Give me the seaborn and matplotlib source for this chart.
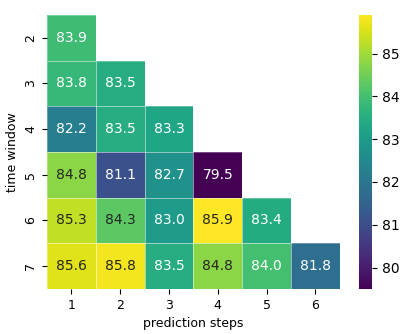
import numpy as np
import pandas as pd
import matplotlib
matplotlib.use("Agg")
import matplotlib.pyplot as plt
import seaborn as sns

time_windows = [2, 3, 4, 5, 6, 7]
pred_steps = [1, 2, 3, 4, 5, 6]
row_2 = [83.9, np.nan, np.nan, np.nan, np.nan, np.nan]
row_3 = [83.8, 83.5, np.nan, np.nan, np.nan, np.nan]
row_4 = [82.2, 83.5, 83.3, np.nan, np.nan, np.nan]
row_5 = [84.8, 81.1, 82.7, 79.5, np.nan, np.nan]
row_6 = [85.3, 84.3, 83.0, 85.9, 83.4, np.nan]
row_7 = [85.6, 85.8, 83.5, 84.8, 84.0, 81.8]

df = pd.DataFrame([row_2, row_3, row_4, row_5, row_6, row_7],
                  index=time_windows, columns=pred_steps)

fig = plt.figure(figsize=(4.19, 3.34), dpi=100)
ax = fig.add_axes([0.112, 0.135, 0.699, 0.82])
cax = fig.add_axes([0.857, 0.135, 0.031, 0.82])
sns.heatmap(df, ax=ax, cbar_ax=cax, cmap="viridis", annot=True, fmt=".1f",
            annot_kws={"fontsize": 10}, linewidths=0)
# thin light separators only around the drawn cells
for i in range(df.shape[0]):
    for j in range(df.shape[1]):
        if not np.isnan(df.iat[i, j]):
            ax.add_patch(plt.Rectangle((j, i), 1, 1, fill=False,
                                       edgecolor="white", alpha=0.35, lw=0.6))
ax.set_xlabel("prediction steps", fontsize=9)
ax.set_ylabel("time window", fontsize=9)
ax.tick_params(labelsize=9)
cax.tick_params(labelsize=10)
fig.savefig("out.png", dpi=100)
